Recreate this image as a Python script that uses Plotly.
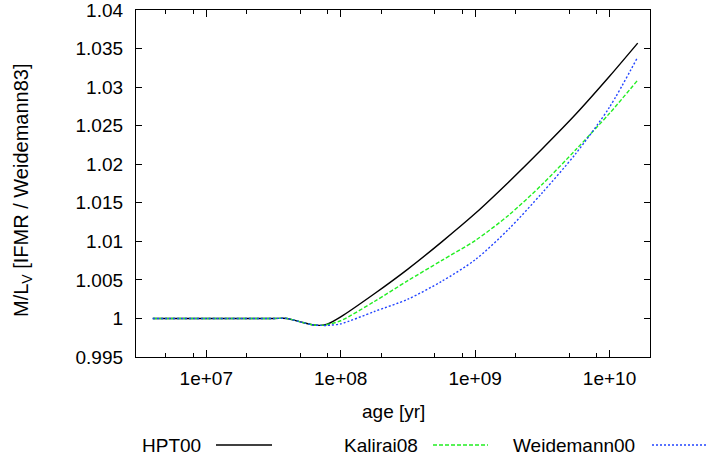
import math
import plotly.graph_objects as go

# ---- data ----
age_hpt = [4.0e6, 1.0e7, 3.2e7, 3.98e7, 5.01e7, 6.31e7, 7.08e7, 7.94e7, 1.0e8, 1.78e8,
           3.16e8, 5.62e8, 1.0e9, 1.78e9, 3.16e9, 5.62e9, 1.0e10, 1.62e10]
mlv_hpt = [1.0, 1.0, 1.0, 1.0, 0.99955, 0.99915, 0.9991, 0.99925, 1.0002, 1.0032,
           1.0064, 1.0099, 1.0136, 1.0177, 1.0220, 1.0265, 1.0314, 1.0357]

age_kal = [4.0e6, 1.0e7, 3.2e7, 3.98e7, 5.01e7, 6.31e7, 7.08e7, 7.94e7, 1.0e8, 1.78e8,
           3.16e8, 5.62e8, 1.0e9, 1.78e9, 3.16e9, 5.62e9, 1.0e10, 1.62e10]
mlv_kal = [1.0, 1.0, 1.0, 1.0, 0.99955, 0.99915, 0.9991, 0.9992, 0.9997, 1.0022,
           1.0049, 1.0075, 1.0101, 1.0134, 1.0174, 1.0219, 1.0266, 1.0309]

age_wei = [4.0e6, 1.0e7, 3.2e7, 3.98e7, 5.01e7, 6.31e7, 7.08e7, 7.94e7, 1.0e8, 1.78e8,
           3.16e8, 5.62e8, 1.0e9, 1.78e9, 3.16e9, 5.62e9, 1.0e10, 1.62e10]
mlv_wei = [1.0, 1.0, 1.0, 1.0, 0.99955, 0.99915, 0.9991, 0.9991, 0.9993, 1.0009,
           1.0025, 1.0048, 1.0076, 1.0116, 1.0163, 1.0214, 1.0274, 1.0339]

series_names = ["HPT00", "Kalirai08", "Weidemann00"]
series_colors = ["#000000", "#22ee22", "#2244ff"]
series_dash = ["solid", "4px,2px", "2px,2px"]

x_major = [1e7, 1e8, 1e9, 1e10]
x_major_text = ["1e+07", "1e+08", "1e+09", "1e+10"]
x_minor = [5e6, 8e6, 2e7, 5e7, 8e7, 2e8, 5e8, 8e8, 2e9, 5e9, 8e9]
y_ticks = [0.995, 1.0, 1.005, 1.01, 1.015, 1.02, 1.025, 1.03, 1.035, 1.04]
y_tick_text = ["0.995", "1", "1.005", "1.01", "1.015", "1.02", "1.025", "1.03", "1.035", "1.04"]

x_range = [3e6, 2e10]
y_range = [0.995, 1.04]

FONT = "Liberation Sans, Arial, sans-serif"
FS = 19

fig = go.Figure()
for xs, ys, name, col, dash in zip([age_hpt, age_kal, age_wei], [mlv_hpt, mlv_kal, mlv_wei],
                                   series_names, series_colors, series_dash):
    fig.add_trace(go.Scatter(x=xs, y=ys, mode="lines", name=name, showlegend=False,
                             line=dict(color=col, width=1.4, dash=dash, shape="spline", smoothing=0.8)))

# invisible trace to activate the minor-tick overlay axis
fig.add_trace(go.Scatter(x=[age_hpt[0]], y=[mlv_hpt[0]], xaxis="x2", mode="markers",
                         marker=dict(opacity=0), hoverinfo="skip", showlegend=False))

# plot area in pixels
L, R, T, B = 136, 650, 10, 357
W, H = 728, 459
pw, ph = R - L, B - T

def px(xp):
    return (xp - L) / pw

def py(yp):
    return (B - yp) / ph

eps = 1e-7
fig.update_layout(
    width=W, height=H,
    margin=dict(l=L, r=W - R, t=T, b=H - B, autoexpand=False),
    paper_bgcolor="white", plot_bgcolor="white",
    font=dict(family=FONT, size=FS, color="black"),
    xaxis=dict(type="log", range=[math.log10(x_range[0]), math.log10(x_range[1])],
               tickvals=x_major, ticktext=x_major_text, ticks="inside", ticklen=7,
               tickwidth=1, tickcolor="black", showline=True, linecolor="black", linewidth=1.3,
               mirror="ticks", showgrid=False, zeroline=False, ticklabelstandoff=4,
               ticklabeloverflow="allow", automargin=False),
    xaxis2=dict(type="log", range=[math.log10(x_range[0]), math.log10(x_range[1])],
                overlaying="x", anchor="y", side="bottom", tickvals=x_minor,
                showticklabels=False, ticks="inside", ticklen=4, tickwidth=1,
                tickcolor="black", mirror="ticks", showline=False, showgrid=False,
                zeroline=False, automargin=False),
    yaxis=dict(range=[y_range[0] - eps, y_range[1] + eps], tickvals=y_ticks,
               ticktext=y_tick_text, ticks="inside",
               ticklen=6, tickwidth=1, tickcolor="black", showline=True, linecolor="black",
               linewidth=1.3, mirror="ticks", showgrid=False, zeroline=False,
               ticklabelstandoff=8, ticklabeloverflow="allow", automargin=False),
)

annotations = [
    dict(text="age [yr]", x=0.5, y=py(411), xref="paper", yref="paper",
         xanchor="center", yanchor="middle", showarrow=False),
    dict(text="M/L<sub>V</sub> [IFMR / Weidemann83]", x=px(22), y=py(190),
         xref="paper", yref="paper", xanchor="center", yanchor="middle",
         textangle=-90, showarrow=False, font=dict(size=20)),
]
shapes = []
leg_y = 445
leg_text_right = [203, 420, 637]
leg_line = [(216, 272), (433, 488), (652, 708)]
for name, col, dash, tr, (l0, l1) in zip(series_names, series_colors, series_dash,
                                         leg_text_right, leg_line):
    annotations.append(dict(text=name, x=px(tr), y=py(leg_y), xref="paper", yref="paper",
                            xanchor="right", yanchor="middle", showarrow=False))
    shapes.append(dict(type="line", xref="paper", yref="paper", x0=px(l0), x1=px(l1),
                       y0=py(leg_y), y1=py(leg_y), line=dict(color=col, width=1.4, dash=dash)))

fig.update_layout(annotations=annotations, shapes=shapes)
fig.write_html("out.html")
